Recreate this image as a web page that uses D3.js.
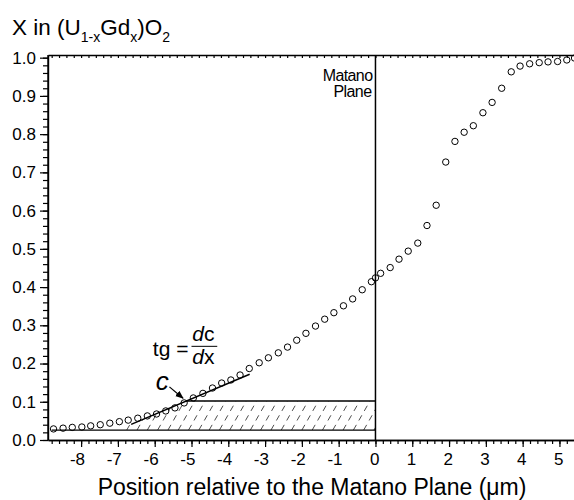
<!DOCTYPE html>
<html>
<head>
<meta charset="utf-8">
<script src="https://cdn.jsdelivr.net/npm/d3@7"></script>
<style>
  body { margin: 0; background: #fff; }
  svg { display: block; font-family: Arial, "Liberation Sans", sans-serif; }
  .axis path { stroke: #000; stroke-width: 1.4; }
  .axis line { stroke: #000; stroke-width: 1.2; }
</style>
</head>
<body>
<script>
const w = 574;
const h = 500;

// measured composition profile
const position = [-8.75, -8.49, -8.24, -7.98, -7.74, -7.48, -7.22, -6.96, -6.72, -6.46,
  -6.20, -5.95, -5.70, -5.45, -5.20, -4.95, -4.69, -4.43, -4.18, -3.93,
  -3.68, -3.43, -3.16, -2.91, -2.64, -2.39, -2.14, -1.89, -1.63, -1.38,
  -1.13, -0.87, -0.62, -0.36, -0.11, 0.00, 0.14, 0.40, 0.64, 0.89,
  1.15, 1.40, 1.65, 1.91, 2.16, 2.41, 2.66, 2.92, 3.17, 3.43,
  3.69, 3.93, 4.19, 4.45, 4.69, 4.95, 5.20, 5.41];
const gdFraction = [0.029, 0.031, 0.033, 0.034, 0.037, 0.040, 0.044, 0.048, 0.052, 0.057,
  0.063, 0.068, 0.076, 0.084, 0.097, 0.110, 0.122, 0.136, 0.149, 0.157,
  0.170, 0.187, 0.202, 0.215, 0.228, 0.243, 0.261, 0.279, 0.298, 0.316,
  0.333, 0.351, 0.369, 0.393, 0.414, 0.424, 0.436, 0.451, 0.473, 0.494,
  0.515, 0.561, 0.614, 0.727, 0.781, 0.805, 0.822, 0.856, 0.883, 0.920,
  0.963, 0.978, 0.984, 0.987, 0.989, 0.990, 0.994, 0.999];

const xTicks = [-8, -7, -6, -5, -4, -3, -2, -1, 0, 1, 2, 3, 4, 5];
const yTicks = [0, 0.1, 0.2, 0.3, 0.4, 0.5, 0.6, 0.7, 0.8, 0.9, 1.0];

// tangent at c and the shaded band
const tangentX = [-6.64, -3.42];
const tangentY = [0.041, 0.172];
const bandLow = 0.026;
const bandHigh = 0.102;
const bandLeft = -8.8;
const matano = 0;

const svg = d3.select("body").append("svg").attr("width", w).attr("height", h);
svg.append("rect").attr("width", w).attr("height", h).attr("fill", "#fff");

const x = d3.scaleLinear().domain([-8.9, 5.45]).range([48, 576]);
const y = d3.scaleLinear().domain([0, 1.007]).range([440, 55]);

// x where the tangent reaches a given level
const slope = (tangentY[1] - tangentY[0]) / (tangentX[1] - tangentX[0]);
function tangentAt(v) {
  return tangentX[0] + (v - tangentY[0]) / slope;
}

// hatched area
const clip = svg.append("defs").append("clipPath").attr("id", "band");
clip.append("polygon").attr("points", [
  [x(tangentAt(bandLow)), y(bandLow)],
  [x(tangentAt(bandHigh)), y(bandHigh)],
  [x(matano), y(bandHigh)],
  [x(matano), y(bandLow)]
].map(p => p.join(",")).join(" "));

svg.append("g").attr("clip-path", "url(#band)")
  .selectAll("line")
  .data(d3.range(-7.6, 0.3, 0.28))
  .enter()
  .append("line")
  .attr("x1", d => x(d))
  .attr("y1", y(bandLow))
  .attr("x2", d => x(d + 0.45))
  .attr("y2", y(bandHigh))
  .attr("stroke", "#000")
  .attr("stroke-width", 0.7)
  .attr("stroke-dasharray", "6,5");

svg.append("line")
  .attr("x1", x(bandLeft)).attr("x2", x(matano))
  .attr("y1", y(bandLow)).attr("y2", y(bandLow))
  .attr("stroke", "#000").attr("stroke-width", 1.3);
svg.append("line")
  .attr("x1", x(tangentAt(bandHigh))).attr("x2", x(matano))
  .attr("y1", y(bandHigh)).attr("y2", y(bandHigh))
  .attr("stroke", "#000").attr("stroke-width", 1.3);

// Matano plane
svg.append("line")
  .attr("x1", x(matano)).attr("x2", x(matano))
  .attr("y1", y(1.007)).attr("y2", y(0))
  .attr("stroke", "#000").attr("stroke-width", 1.5);

svg.append("text")
  .attr("x", x(matano) - 3).attr("y", 81)
  .attr("text-anchor", "end").attr("font-size", 16).attr("letter-spacing", -0.6)
  .text("Matano");
svg.append("text")
  .attr("x", x(matano) - 4).attr("y", 97)
  .attr("text-anchor", "end").attr("font-size", 16).attr("letter-spacing", -0.6)
  .text("Plane");

// tangent line
svg.append("line")
  .attr("x1", x(tangentX[0])).attr("y1", y(tangentY[0]))
  .attr("x2", x(tangentX[1])).attr("y2", y(tangentY[1]))
  .attr("stroke", "#000").attr("stroke-width", 1.5);

// axes
const yAxis = d3.axisLeft(y).tickValues(yTicks).tickSize(8).tickSizeOuter(0).tickPadding(4)
  .tickFormat(d3.format(".1f"));
const yMinor = d3.axisLeft(y).tickValues(d3.range(0, 51).map(i => i * 0.02)).tickSize(5)
  .tickSizeOuter(0).tickFormat("");

svg.append("g").attr("class", "axis").attr("transform", "translate(48,0)").call(yMinor);
const gy = svg.append("g").attr("class", "axis").attr("transform", "translate(48,0)").call(yAxis);
gy.selectAll("text").attr("font-size", 17).attr("font-family", null).attr("fill", "#000");
gy.select(".domain").attr("d", "M0," + y(1.007) + "V" + y(0));

const xMinorVals = d3.range(0, 72).map(i => -8.8 + i * 0.2);
const xAxis = d3.axisBottom(x).tickValues(xTicks).tickSize(7).tickSizeOuter(0).tickPadding(6)
  .tickFormat(d => String(d));
const xMinor = d3.axisBottom(x).tickValues(xMinorVals).tickSize(4).tickSizeOuter(0).tickFormat("");

svg.append("g").attr("class", "axis").attr("transform", "translate(0,440)").call(xMinor);
const gx = svg.append("g").attr("class", "axis").attr("transform", "translate(0,440)").call(xAxis);
gx.selectAll("text")
  .attr("font-size", 17).attr("font-family", null).attr("fill", "#000")
  .attr("text-anchor", "end").attr("dx", "0.2em");

// top border with small inward ticks
const topAxis = d3.axisTop(x).tickValues(xMinorVals).tickSize(-3).tickSizeOuter(0).tickFormat("");
svg.append("g").attr("class", "axis").attr("transform", "translate(0," + y(1.007) + ")").call(topAxis);

// data points
svg.append("g")
  .selectAll("circle")
  .data(position)
  .enter()
  .append("circle")
  .attr("cx", d => x(d))
  .attr("cy", (d, i) => y(gdFraction[i]))
  .attr("r", 3.2)
  .attr("fill", "none")
  .attr("stroke", "#000")
  .attr("stroke-width", 1);

// annotation: tg = dc/dx
const tg = svg.append("g").attr("font-size", 21);
tg.append("text").attr("x", x(-6.05)).attr("y", y(0.219)).text("tg =");
tg.append("text").attr("x", x(-4.98)).attr("y", y(0.26)).attr("font-style", "italic").text("d")
  .append("tspan").attr("font-style", "normal").text("c");
tg.append("text").attr("x", x(-4.98)).attr("y", y(0.198)).attr("font-style", "italic").text("d")
  .append("tspan").attr("font-style", "normal").text("x");
tg.append("line")
  .attr("x1", x(-5.0)).attr("x2", x(-4.3))
  .attr("y1", y(0.245)).attr("y2", y(0.245))
  .attr("stroke", "#000").attr("stroke-width", 1);

// c with arrow
svg.append("defs").append("marker")
  .attr("id", "arrow").attr("viewBox", "0 0 10 10")
  .attr("refX", 9).attr("refY", 5)
  .attr("markerWidth", 7).attr("markerHeight", 7)
  .attr("orient", "auto")
  .append("path").attr("d", "M0,1L10,5L0,9z").attr("fill", "#000");

svg.append("text")
  .attr("x", x(-5.97)).attr("y", y(0.131))
  .attr("font-size", 26).attr("font-style", "italic")
  .text("c");
svg.append("line")
  .attr("x1", x(-5.6)).attr("y1", y(0.139))
  .attr("x2", x(-5.23)).attr("y2", y(0.109))
  .attr("stroke", "#000").attr("stroke-width", 1.2)
  .attr("marker-end", "url(#arrow)");

// titles
const title = svg.append("text").attr("x", 12).attr("y", 35).attr("font-size", 22.5);
title.append("tspan").text("X in (U");
title.append("tspan").attr("font-size", 14).attr("dy", 7).text("1-x");
title.append("tspan").attr("dy", -7).text("Gd");
title.append("tspan").attr("font-size", 14).attr("dy", 7).text("x");
title.append("tspan").attr("dy", -7).text(")O");
title.append("tspan").attr("font-size", 14).attr("dy", 7).text("2");

svg.append("text")
  .attr("x", 312).attr("y", 495)
  .attr("text-anchor", "middle").attr("font-size", 23)
  .text("Position relative to the Matano Plane (\u03bcm)");
</script>
</body>
</html>
